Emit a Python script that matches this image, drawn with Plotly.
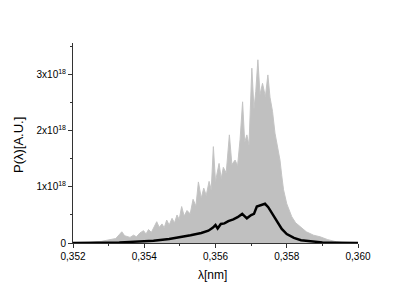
import plotly.graph_objects as go

# upper envelope of the individual spectra (gray)
env_wl = [0.3520, 0.3525, 0.3528, 0.3530, 0.3532, 0.35330, 0.35337, 0.35345, 0.3536, 0.35370,
          0.35378, 0.35388, 0.35398, 0.35405, 0.35412, 0.35420, 0.35428, 0.35435, 0.35442, 0.35450,
          0.35456, 0.35463, 0.35470, 0.35478, 0.35485, 0.35492, 0.35498, 0.35505, 0.35512, 0.35520,
          0.35529, 0.35537, 0.35545, 0.35552, 0.35560, 0.35567, 0.35574, 0.35582, 0.35588, 0.35594,
          0.35600, 0.35605, 0.35610, 0.35616, 0.35622, 0.35630, 0.35639, 0.35646, 0.35655, 0.35662,
          0.35669, 0.35676, 0.35682, 0.35688, 0.35694, 0.35702, 0.35708, 0.35713, 0.35719, 0.35725,
          0.35732, 0.35740, 0.35747, 0.35753, 0.35760, 0.35767, 0.35774, 0.35781, 0.35786, 0.35791,
          0.35800, 0.35814, 0.35825, 0.35838, 0.35855, 0.35875, 0.35894, 0.35915, 0.35940, 0.35960,
          0.3600]
env_p = [0.0, 0.01, 0.03, 0.05, 0.08, 0.15, 0.20, 0.13, 0.10, 0.14,
         0.11, 0.18, 0.22, 0.16, 0.24, 0.19, 0.30, 0.38, 0.28, 0.34,
         0.27, 0.41, 0.32, 0.44, 0.36, 0.50, 0.42, 0.65, 0.48, 0.58,
         0.52, 0.78, 0.66, 1.09, 0.80, 0.98, 0.85, 1.10, 0.95, 1.72,
         1.10, 1.30, 1.42, 1.15, 1.35, 1.25, 1.93, 1.40, 1.48, 1.38,
         1.85, 2.52, 1.80, 1.93, 1.75, 3.12, 2.40, 2.70, 3.27, 2.65,
         2.85, 2.61, 3.00, 2.60, 2.35, 1.96, 1.75, 1.48, 1.20, 0.95,
         0.70, 0.47, 0.36, 0.29, 0.20, 0.14, 0.11, 0.06, 0.02, 0.005,
         0.0]

# averaged spectrum (black)
avg_wl = [0.3520, 0.3525, 0.3530, 0.3533, 0.3536, 0.35426, 0.3547, 0.3550, 0.3553, 0.3556,
          0.35580, 0.35592, 0.35600, 0.35606, 0.35615, 0.35625, 0.35636, 0.35650, 0.35662, 0.35675,
          0.35688, 0.35700, 0.35708, 0.35716, 0.35728, 0.35739, 0.35748, 0.35755, 0.35765, 0.35772,
          0.35786, 0.35800, 0.35820, 0.35840, 0.35870, 0.35900, 0.35940, 0.3600]
avg_p = [0.0, 0.002, 0.005, 0.01, 0.02, 0.04, 0.07, 0.10, 0.14, 0.18,
         0.22, 0.27, 0.32, 0.26, 0.34, 0.35, 0.39, 0.42, 0.46, 0.52,
         0.44, 0.50, 0.52, 0.65, 0.68, 0.70, 0.64, 0.57, 0.48, 0.41,
         0.25, 0.16, 0.09, 0.05, 0.025, 0.01, 0.003, 0.0]

scale = 1e18
x_ticks = [0.352, 0.354, 0.356, 0.358, 0.360]
x_tick_text = ["0,352", "0,354", "0,356", "0,358", "0,360"]
y_ticks = [0, 1, 2, 3]
y_tick_text = ["0", "1x10<sup>18</sup>", "2x10<sup>18</sup>", "3x10<sup>18</sup>"]

fig = go.Figure()
fig.add_trace(go.Scatter(x=env_wl, y=[v * scale for v in env_p], mode="lines",
                         line=dict(color="#c4c4c4", width=1), fill="tozeroy",
                         fillcolor="#c0c0c0", showlegend=False, hoverinfo="skip"))
fig.add_trace(go.Scatter(x=avg_wl, y=[v * scale for v in avg_p], mode="lines",
                         line=dict(color="black", width=2.5), showlegend=False, hoverinfo="skip"))

fam = "Liberation Sans, Arial, sans-serif"
font = dict(family=fam, size=10, color="black")
fig.update_layout(
    width=415, height=292,
    margin=dict(l=73, r=57, t=43, b=49),
    paper_bgcolor="white", plot_bgcolor="white",
    font=font,
    xaxis=dict(range=[0.352, 0.360], tickvals=x_ticks, ticktext=x_tick_text,
               ticks="outside", ticklen=4, tickcolor="#333", showline=True,
               linecolor="#333", linewidth=1, showgrid=False, zeroline=False,
               minor=dict(dtick=0.001, ticks="outside", ticklen=2, tickcolor="#333"),
               tickfont=font),
    yaxis=dict(range=[0, 3.57e18], tickvals=[v * scale for v in y_ticks], ticktext=y_tick_text,
               ticks="outside", ticklen=4, tickcolor="#333", showline=True,
               linecolor="#333", linewidth=1, showgrid=False, zeroline=False,
               minor=dict(dtick=0.5e18, ticks="outside", ticklen=2, tickcolor="#333"),
               tickfont=font),
    annotations=[
        dict(text="λ[nm]", xref="paper", yref="paper", x=0.49, y=-0.115, yanchor="top",
             showarrow=False, font=dict(family=fam, size=12, color="black")),
        dict(text="P(λ)[A.U.]", xref="paper", yref="paper", x=-0.193, y=0.49, textangle=-90,
             xanchor="center", yanchor="middle", showarrow=False,
             font=dict(family=fam, size=13, color="black")),
    ],
)
fig.write_html("out.html", config={"displayModeBar": False},
               post_script="document.body.style.margin='0';")
